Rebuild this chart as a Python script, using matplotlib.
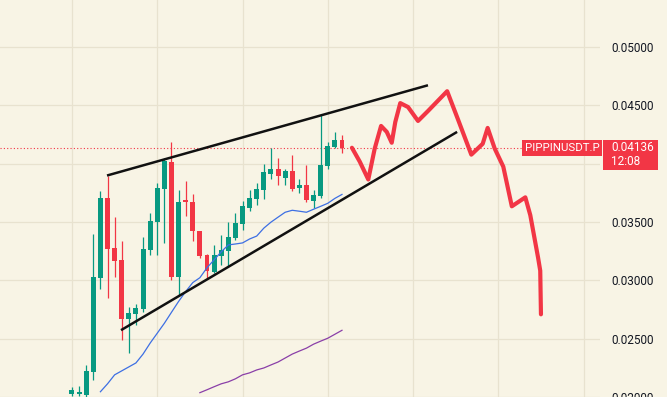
import matplotlib
matplotlib.use("Agg")
import matplotlib.pyplot as plt
import matplotlib.transforms as mtransforms
from matplotlib.patches import Rectangle
import numpy as np

# candles (price, USDT)
opens = [0.02028, 0.02028, 0.02020, 0.02215, 0.03023, 0.03703, 0.03278, 0.03176, 0.02666, 0.02709,
         0.02751, 0.03261, 0.03499, 0.03780, 0.04018, 0.03032, 0.03686, 0.03669, 0.03423, 0.03219,
         0.03074, 0.03210, 0.03253, 0.03363, 0.03482, 0.03618, 0.03695, 0.03771, 0.03916, 0.03958,
         0.03882, 0.03941, 0.03788, 0.03814, 0.03678, 0.03720, 0.03984, 0.04146, 0.04205]
highs = [0.02088, 0.02096, 0.02275, 0.03397, 0.03763, 0.03899, 0.03542, 0.03338, 0.02768, 0.02794,
         0.03372, 0.03576, 0.03831, 0.04052, 0.04188, 0.03771, 0.03856, 0.03737, 0.03423, 0.03227,
         0.03304, 0.03389, 0.03499, 0.03576, 0.03678, 0.03771, 0.03839, 0.04001, 0.04137, 0.04052,
         0.03958, 0.04078, 0.03873, 0.03992, 0.03771, 0.04418, 0.04188, 0.04273, 0.04248]
lows = [0.02011, 0.02011, 0.02000, 0.02147, 0.02930, 0.02853, 0.03032, 0.02487, 0.02377, 0.02615,
        0.02730, 0.03219, 0.03219, 0.03321, 0.03006, 0.02870, 0.03550, 0.03338, 0.03193, 0.03015,
        0.03066, 0.03134, 0.03125, 0.03346, 0.03431, 0.03593, 0.03644, 0.03695, 0.03865, 0.03822,
        0.03822, 0.03763, 0.03746, 0.03669, 0.03618, 0.03703, 0.03958, 0.04137, 0.04095]
closes = [0.02062, 0.02045, 0.02224, 0.03032, 0.03703, 0.03270, 0.03168, 0.02666, 0.02717, 0.02760,
          0.03270, 0.03508, 0.03788, 0.04027, 0.03032, 0.03669, 0.03669, 0.03423, 0.03210, 0.03083,
          0.03219, 0.03261, 0.03372, 0.03491, 0.03635, 0.03703, 0.03780, 0.03933, 0.03958, 0.03891,
          0.03941, 0.03780, 0.03814, 0.03686, 0.03729, 0.03992, 0.04154, 0.04205, 0.04136]

# moving averages
ma_fast_start = 4
ma_fast = [0.02045, 0.02113, 0.02190, 0.02224, 0.02258, 0.02292, 0.02368, 0.02462, 0.02547, 0.02632,
           0.02726, 0.02819, 0.02904, 0.02981, 0.03023, 0.03108, 0.03176, 0.03244, 0.03304, 0.03312,
           0.03321, 0.03355, 0.03380, 0.03448, 0.03499, 0.03542, 0.03584, 0.03601, 0.03593, 0.03584,
           0.03610, 0.03635, 0.03661, 0.03703, 0.03737]
ma_slow_start = 18
ma_slow = [0.02037, 0.02062, 0.02088, 0.02113, 0.02130, 0.02156, 0.02190, 0.02207, 0.02232, 0.02249,
           0.02275, 0.02300, 0.02334, 0.02368, 0.02394, 0.02419, 0.02453, 0.02479, 0.02504, 0.02538,
           0.02572]

# wedge trendlines (bar index, price)
upper_x = [4.93, 50.1]
upper_y = [0.03899, 0.04673]
lower_x = [6.9, 54.2]
lower_y = [0.02573, 0.04273]

# hand drawn projection
proj_x = [39.4, 40.5, 41.7, 42.6, 43.5, 44.3, 45.0, 45.5, 46.2, 47.3, 48.7, 50.1, 52.8, 54.3,
          56.2, 57.8, 58.5, 59.5, 60.7, 61.9, 63.8, 64.5, 65.6, 65.9, 66.0]
proj_y = [0.04137, 0.04018, 0.03865, 0.04129, 0.04324, 0.04273, 0.04180, 0.04358, 0.04520, 0.04486,
          0.04367, 0.04452, 0.04622, 0.04384, 0.04078, 0.04171, 0.04307, 0.04129, 0.03975, 0.03635,
          0.03712, 0.03559, 0.03193, 0.03083, 0.02709]

yticks = [0.020, 0.025, 0.030, 0.035, 0.040, 0.045, 0.050]
symbol = "PIPPINUSDT.P"
countdown = "12:08"

bg = "#F8F4E5"
up_col = "#089981"
dn_col = "#F23645"
grid_col = "#E8E2CF"

plt.rcParams['font.family'] = ['Roboto', 'DejaVu Sans']

fig = plt.figure(figsize=(6.67, 3.97), dpi=100, facecolor=bg)
ax = fig.add_axes([0, 0, 600 / 667, 1])
ax.set_facecolor(bg)

idx = np.arange(len(opens))
o = np.array(opens)
c = np.array(closes)
h = np.array(highs)
l = np.array(lows)
col = np.where(c >= o, up_col, dn_col)

ax.vlines(idx, l, h, colors=col, lw=0.9, zorder=3)
body_bot = np.minimum(o, c)
body_h = np.maximum(np.abs(c - o), 0.0001)
ax.bar(idx, body_h, bottom=body_bot, width=0.7, color=col, zorder=4)

ax.plot(np.arange(len(ma_fast)) + ma_fast_start, ma_fast, color="#3D6FE3", lw=0.9, zorder=5)
ax.plot(np.arange(len(ma_slow)) + ma_slow_start, ma_slow, color="#8A3FA8", lw=0.9, zorder=5)

ax.plot(upper_x, upper_y, color="#111111", lw=1.8, solid_capstyle='butt', zorder=6)
ax.plot(lower_x, lower_y, color="#111111", lw=1.8, solid_capstyle='butt', zorder=6)

ax.plot(proj_x, proj_y, color=dn_col, lw=3.0, solid_joinstyle='round', solid_capstyle='round', zorder=7)

last = closes[-1]
ax.axhline(last, color=dn_col, lw=0.8, ls=(0, (1, 2)), zorder=2)

# grid
for t in yticks:
    ax.axhline(t, color=grid_col, lw=0.9, zorder=1)
for gx in range(0, 80, 12):
    ax.axvline(gx, color=grid_col, lw=0.9, zorder=1)

ax.set_xlim(-10.13, 74.31)
ax.set_ylim(0.02028, 0.05404)
ax.set_xticks([])
ax.yaxis.tick_right()
ax.set_yticks(yticks)
ax.set_yticklabels(["" if abs(t - 0.04) < 1e-9 else f"{t:.5f}" for t in yticks])
ax.tick_params(axis='y', length=0, pad=8, labelsize=8.5, labelcolor="#131722")
for s in ax.spines.values():
    s.set_visible(False)

trans = mtransforms.blended_transform_factory(ax.transAxes, ax.transData)
px = 1 / 11760.0  # price per pixel

ax.add_patch(Rectangle((522 / 600, last - 8 * px), 80 / 600, 16 * px, transform=trans,
                       facecolor=dn_col, edgecolor='none', clip_on=False, zorder=8))
ax.text(562 / 600, last, symbol, transform=trans, ha='center', va='center',
        color='white', fontsize=8.2, clip_on=False, zorder=9)

ax.add_patch(Rectangle((603 / 600, last - 22 * px), 55 / 600, 30 * px, transform=trans,
                       facecolor=dn_col, edgecolor='none', clip_on=False, zorder=8))
ax.text(611 / 600, last, f"{last:.5f}", transform=trans, ha='left', va='center',
        color='white', fontsize=8.5, clip_on=False, zorder=9)
ax.text(611 / 600, last - 14 * px, countdown, transform=trans, ha='left', va='center',
        color='white', fontsize=8.5, clip_on=False, zorder=9)

fig.savefig("out.png", dpi=100, facecolor=bg)
